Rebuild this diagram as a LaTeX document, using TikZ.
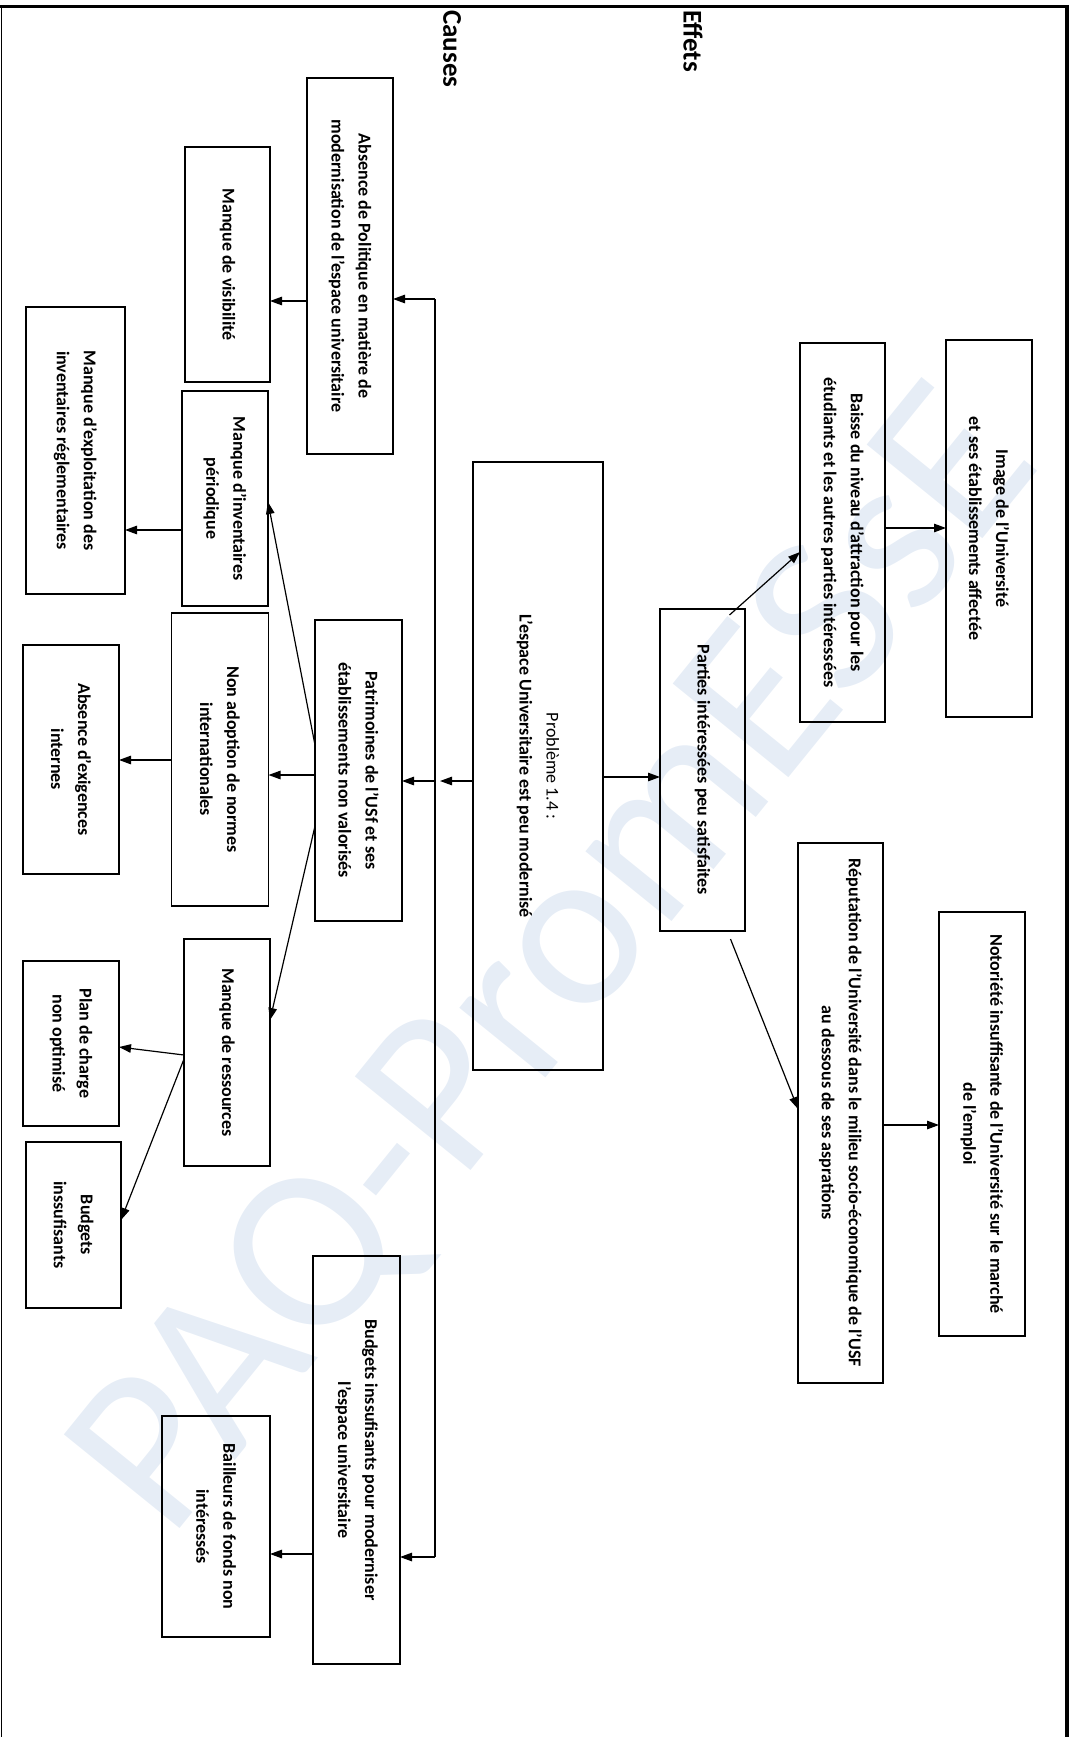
\documentclass[tikz,border=0pt]{standalone}
\usepackage{fontspec}
\setmainfont{Carlito}
\usetikzlibrary{arrows.meta,calc}
\definecolor{wmark}{RGB}{230,237,246}
\begin{document}
\begin{tikzpicture}[x=1pt,y=-1pt,
  box/.style={draw=black, line width=1.6pt, rotate=-90, align=center,
    font=\bfseries\fontsize{18}{27}\selectfont, inner sep=0pt, outer sep=0pt},
  arr/.style={line width=1.2pt, -{Triangle[length=12pt,width=8.5pt]}},
  link/.style={line width=1.2pt},
  heading/.style={rotate=-90, font=\bfseries\fontsize{27}{30}\selectfont,
    inner sep=0pt, anchor=west}
]
\useasboundingbox (0,0) rectangle (1075,1737);

% watermark
\node[rotate=51, text=wmark, font=\fontsize{232}{232}\selectfont, inner sep=0pt]
  (wm) at (560,965) {PAQ-PromESsE};

% page frame
\draw[line width=3pt] (0,7) -- (1069,7);
\draw[line width=4.5pt] (1067,5) -- (1067,1737);
\draw[line width=1.2pt] (1.5,7) -- (1.5,1737);

% headings
\node[heading] (causes) at (452,10) {Causes};
\node[heading] (effets) at (693,10) {Effets};

% central problem
\node[box, minimum width=608, minimum height=130] (H) at (538,766)
  {{\mdseries Problème 1.4 :}\\L'espace Universitaire est peu modernisé};

% causes
\node[box, minimum width=376, minimum height=86] (A) at (350,266)
  {Absence de Politique en matière de\\modernisation de l'espace universitaire};
\node[box, minimum width=235, minimum height=85] (B) at (227.5,264.5)
  {Manque de visibilité};
\node[box, minimum width=287, minimum height=99] (C) at (75.5,450.5)
  {Manque d'exploitation des\\inventaires réglementaires};
\node[box, minimum width=215, minimum height=86] (D) at (225,498.5)
  {Manque d'inventaires\\périodique};
\node[box, minimum width=293, minimum height=97] (E) at (220,759.5)
  {Non adoption de normes\\internationales};
\node[box, minimum width=229, minimum height=96] (F) at (71,759.5)
  {Absence d'exigences\\internes};
\node[box, minimum width=301, minimum height=87] (G) at (358.5,770.5)
  {Patrimoines de l'USf et ses\\établissements non valorisés};
\node[box, minimum width=227, minimum height=86] (N) at (227,1052.5)
  {Manque de ressources};
\node[box, minimum width=165, minimum height=96] (O) at (71,1043.5)
  {Plan de charge\\non optimisé};
\node[box, minimum width=166, minimum height=95] (P) at (73.5,1225)
  {Budgets\\inssufisants};
\node[box, minimum width=408, minimum height=87] (Q) at (356.5,1460)
  {Budgets inssufisants pour moderniser\\l'espace universitaire};
\node[box, minimum width=221, minimum height=108] (R) at (216,1526.5)
  {Bailleurs de fonds non\\intéressés};

% effects
\node[box, minimum width=322, minimum height=85] (I) at (702.5,770)
  {Parties intéressées peu satisfaites};
\node[box, minimum width=379, minimum height=85] (J) at (842.5,532.5)
  {Baisse du niveau d'attraction pour les\\étudiants et les autres parties intéressées};
\node[box, minimum width=377, minimum height=86] (K) at (989,528.5)
  {Image de l'Université\\et ses établissements affectée};
\node[box, minimum width=540, minimum height=85] (L) at (840.5,1113)
  {Réputation de l'Université dans le milieu socio-économique de l'USF\\au dessous de ses asprations};
\node[box, minimum width=424, minimum height=86] (M) at (982,1124)
  {Notoriété insuffisante de l'Université sur le marché\\de l'emploi};

% bus on the causes side
\coordinate (busTop) at (435,299);
\coordinate (busBot) at (435,1557);
\coordinate (busMid) at (440,781);
\draw[link] (busBot) -- (busTop);
\draw[arr] (busTop) -- (A.north |- busTop);
\draw[arr] (busBot) -- (Q.north |- busBot);
\draw[arr] (H.south |- busMid) -- (busMid);
\draw[arr] (busTop |- busMid) -- (G.north |- busMid);

% cause links
\coordinate (yAB) at (0,301);
\coordinate (yDC) at (0,530);
\coordinate (yGD) at (0,745);
\coordinate (yDG) at (0,502);
\coordinate (yGE) at (0,775);
\coordinate (yEF) at (0,760);
\coordinate (yGN) at (0,826);
\coordinate (yNG) at (0,1020);
\coordinate (yNO) at (0,1055);
\coordinate (yON) at (0,1047);
\coordinate (yNP) at (0,1059);
\coordinate (yPN) at (0,1220);
\coordinate (yQR) at (0,1554);
\draw[arr] (A.south |- yAB) -- (B.north |- yAB);
\draw[arr] (D.south |- yDC) -- (C.north |- yDC);
\draw[arr] (G.south |- yGD) -- (D.north |- yDG);
\draw[arr] (G.south |- yGE) -- (E.north |- yGE);
\draw[arr] (E.south |- yEF) -- (F.north |- yEF);
\draw[arr] (G.south |- yGN) -- (N.north |- yNG);
\draw[arr] (N.south |- yNO) -- (O.north |- yON);
\draw[arr] (N.south |- yNP) -- (P.north |- yPN);
\draw[arr] (Q.south |- yQR) -- (R.north |- yQR);

% effect links
\coordinate (yHI) at (0,777);
\coordinate (yIJ) at (0,552);
\coordinate (yJK) at (0,528);
\coordinate (yIL) at (0,1109);
\coordinate (yLM) at (0,1125);
\draw[arr] (H.north |- yHI) -- (I.south |- yHI);
\draw[arr] ($(I.west)+(27,6)$) -- (J.south |- yIJ);
\draw[arr] (J.north |- yJK) -- (K.south |- yJK);
\draw[arr] ($(I.east)+(28,8)$) -- (L.south |- yIL);
\draw[arr] (L.north |- yLM) -- (M.south |- yLM);
\end{tikzpicture}
\end{document}
